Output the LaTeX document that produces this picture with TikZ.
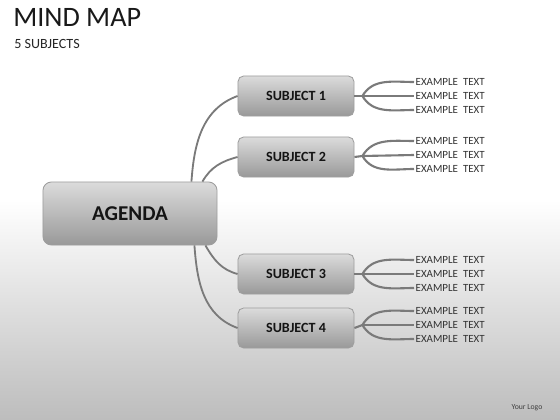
\documentclass[tikz,border=0pt]{standalone}
\usepackage{fontspec}
\setmainfont{Carlito}
\usetikzlibrary{calc}
\tikzset{
	agendabox/.style={draw=black!38, line width=0.6pt, rounded corners=6pt, top color=black!14, bottom color=black!40, minimum width=4.35cm, minimum height=1.575cm, text=black!92, font=\bfseries\fontsize{15}{15}\selectfont},
	subjectbox/.style={draw=black!38, line width=0.6pt, rounded corners=4pt, top color=black!14, bottom color=black!40, minimum width=2.9cm, minimum height=1cm, text=black!92, font=\bfseries\fontsize{10}{10}\selectfont},
	exampletext/.style={anchor=west, inner sep=1pt, text=black!80, font=\fontsize{7.8}{8}\selectfont},
	stem/.style={line width=1.3pt, color=black!52},
	branch/.style={line width=1.5pt, color=black!52}
}

\begin{document}
\begin{tikzpicture}[x=0.025cm, y=-0.025cm]
			%%%%% START %%%%%
			
			\useasboundingbox (0, 0) rectangle (560, 420);
			\fill[white] (0, 0) rectangle (560, 200);
			\shade[top color=white, bottom color=black!26] (0, 200) rectangle (560, 420);
			
			\node[anchor=base west, inner sep=0pt, text=black!90, font=\fontsize{20}{20}\selectfont] (title) at (13, 27) {MIND MAP};
			\node[anchor=base west, inner sep=0pt, text=black!85, font=\fontsize{10}{10}\selectfont] (subtitle) at (14, 49) {5 SUBJECTS};
			
			\node[agendabox] (agenda) at (130, 213.5) {AGENDA};
			
			\node[subjectbox] (s1) at (296, 96) {SUBJECT 1};
			\node[subjectbox] (s2) at (296, 157) {SUBJECT 2};
			\node[subjectbox] (s3) at (296, 274) {SUBJECT 3};
			\node[subjectbox] (s4) at (296, 328) {SUBJECT 4};
			
			\coordinate (a1) at ($(agenda.north east)+(-26, 0)$);
			\coordinate (a2) at ($(agenda.north east)+(-15, 0)$);
			\coordinate (a3) at ($(agenda.south east)+(-12, 0)$);
			\coordinate (a4) at ($(agenda.south east)+(-23, 0)$);
			
			\draw[stem] (a1) to[out=86, in=200] (s1.west);
			\draw[stem] (a2) to[out=60, in=195] (s2.west);
			\draw[stem] (a3) to[out=-60, in=165] (s3.west);
			\draw[stem] (a4) to[out=-86, in=160] (s4.west);
			
			% subject 1
			\node[exampletext] (t11) at (414, 82) {EXAMPLE\ \ TEXT};
			\node[exampletext] (t12) at (414, 96) {EXAMPLE\ \ TEXT};
			\node[exampletext] (t13) at (414, 110) {EXAMPLE\ \ TEXT};
			\coordinate (f1) at ($(s1.east)+(8, 0)$);
			\draw[branch] (s1.east) -- (f1);
			\draw[branch] (f1) to[out=60, in=180] (t11.west);
			\draw[branch] (f1) -- (t12.west);
			\draw[branch] (f1) to[out=-60, in=180] (t13.west);
			
			% subject 2
			\node[exampletext] (t21) at (414, 141) {EXAMPLE\ \ TEXT};
			\node[exampletext] (t22) at (414, 155) {EXAMPLE\ \ TEXT};
			\node[exampletext] (t23) at (414, 169) {EXAMPLE\ \ TEXT};
			\coordinate (f2) at ($(s2.east)+(8, -1)$);
			\draw[branch] (s2.east) -- (f2);
			\draw[branch] (f2) to[out=60, in=180] (t21.west);
			\draw[branch] (f2) -- (t22.west);
			\draw[branch] (f2) to[out=-60, in=180] (t23.west);
			
			% subject 3
			\node[exampletext] (t31) at (414, 260) {EXAMPLE\ \ TEXT};
			\node[exampletext] (t32) at (414, 274) {EXAMPLE\ \ TEXT};
			\node[exampletext] (t33) at (414, 288) {EXAMPLE\ \ TEXT};
			\coordinate (f3) at ($(s3.east)+(8, 0)$);
			\draw[branch] (s3.east) -- (f3);
			\draw[branch] (f3) to[out=60, in=180] (t31.west);
			\draw[branch] (f3) -- (t32.west);
			\draw[branch] (f3) to[out=-60, in=180] (t33.west);
			
			% subject 4
			\node[exampletext] (t41) at (414, 311) {EXAMPLE\ \ TEXT};
			\node[exampletext] (t42) at (414, 325) {EXAMPLE\ \ TEXT};
			\node[exampletext] (t43) at (414, 339) {EXAMPLE\ \ TEXT};
			\coordinate (f4) at ($(s4.east)+(8, -3)$);
			\draw[branch] (s4.east) -- (f4);
			\draw[branch] (f4) to[out=60, in=180] (t41.west);
			\draw[branch] (f4) -- (t42.west);
			\draw[branch] (f4) to[out=-60, in=180] (t43.west);
			
			\node[inner sep=0pt, text=black!75, font=\fontsize{5.5}{6}\selectfont] (logo) at (527, 408) {Your Logo};
			
			%%%%% END %%%%%
		\end{tikzpicture}
\end{document}
